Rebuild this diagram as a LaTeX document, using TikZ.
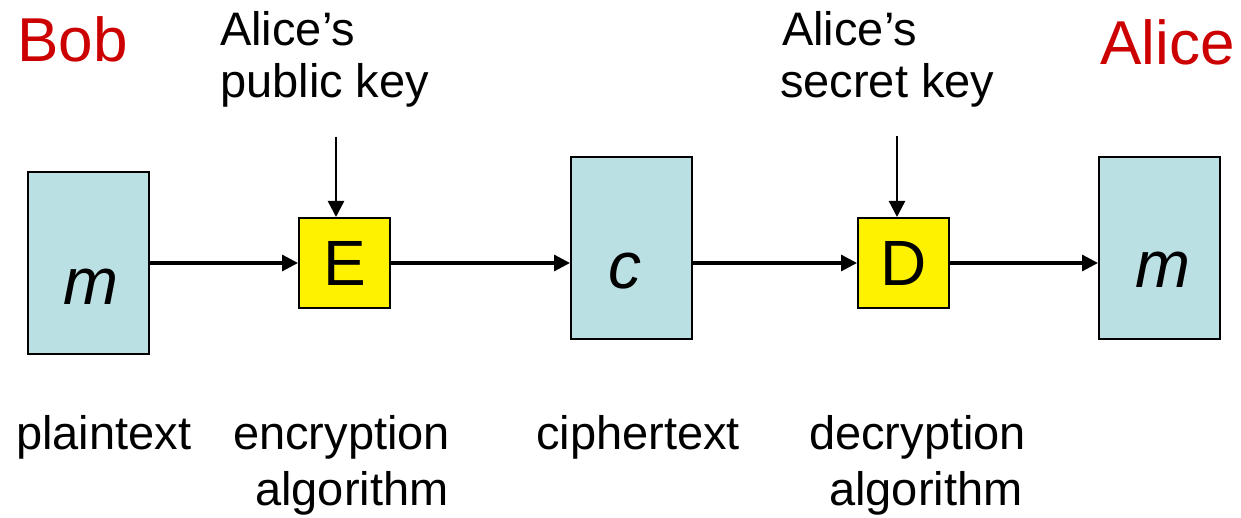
\documentclass[tikz,border=0pt]{standalone}
\usepackage{fontspec}
\setmainfont{Liberation Sans}
\usetikzlibrary{arrows.meta}
\definecolor{boxblue}{HTML}{BBE0E3}
\definecolor{bobred}{HTML}{CC0000}
\tikzset{
  databox/.style={draw=black, line width=2pt, fill=boxblue, minimum width=121pt, minimum height=182pt, inner sep=0pt, anchor=north west},
  algbox/.style={draw=black, line width=2pt, fill=yellow, minimum width=91pt, minimum height=90pt, inner sep=0pt, anchor=north west, font=\fontsize{64}{70}\selectfont},
  arr/.style={line width=3.2pt, -{Triangle[length=16pt,width=16pt]}},
  keyarr/.style={line width=2.4pt, -{Triangle[length=16pt,width=16pt]}},
  lbl/.style={anchor=base west, inner sep=0pt, font=\fontsize{47}{52}\selectfont},
  who/.style={anchor=base west, inner sep=0pt, text=bobred, font=\fontsize{62}{66}\selectfont},
  var/.style={anchor=base, inner sep=0pt, font=\fontsize{66}{70}\selectfont\itshape},
}
\begin{document}
\begin{tikzpicture}[x=1pt,y=-1pt]
\useasboundingbox (0,0) rectangle (1241,518);
% boxes
\node[databox] (m1) at (27,171) {};
\node[databox] (c) at (570,156) {};
\node[databox] (m2) at (1098,156) {};
\node[algbox] (e) at (298,217) {E};
\node[algbox] (d) at (857,217) {D};
% box texts
\node[var] (tm1) at (91,305) {m};
\node[var] (tc) at (625,289) {c};
\node[var] (tm2) at (1163,288) {m};
% top labels
\node[who] (bob) at (17,62) {Bob};
\node[who] (alice) at (1100,65) {Alice};
\node[lbl] (pk1) at (220,46) {Alice’s};
\node[lbl] (pk2) at (220,98) {public key};
\node[lbl] (sk1) at (782,46) {Alice’s};
\node[lbl] (sk2) at (780,98) {secret key};
% bottom labels
\node[lbl] (pt) at (16,449) {plaintext};
\node[lbl] (en1) at (233,449) {encryption};
\node[lbl] (en2) at (255,505) {algorithm};
\node[lbl] (ct) at (536,449) {ciphertext};
\node[lbl] (de1) at (809,449) {decryption};
\node[lbl] (de2) at (829,505) {algorithm};
% arrows
\coordinate (kE) at (336,137);
\coordinate (kD) at (897,136);
\draw[keyarr] (kE) -- (kE |- e.north);
\draw[keyarr] (kD) -- (kD |- d.north);
\draw[arr] (m1.east |- e.west) -- (e.west);
\draw[arr] (e.east) -- (e.east -| c.west);
\draw[arr] (c.east |- d.west) -- (d.west);
\draw[arr] (d.east) -- (d.east -| m2.west);
\end{tikzpicture}
\end{document}
